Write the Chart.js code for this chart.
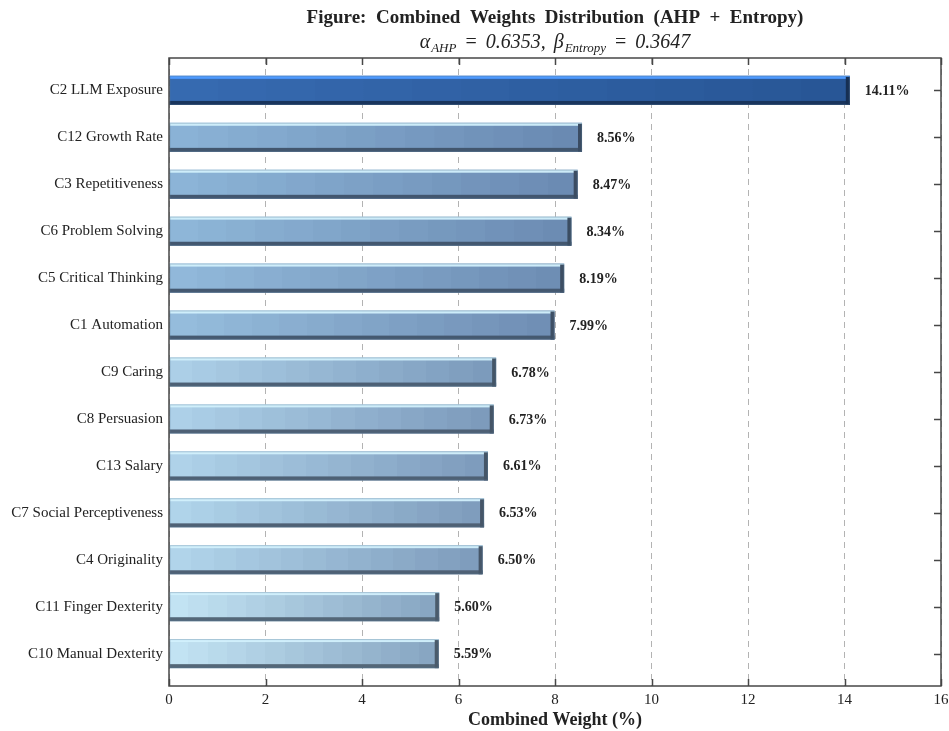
<!DOCTYPE html>
<html lang="en">
<head>
    <meta charset="UTF-8">
    <title>Combined Weights Distribution</title>
    <script src="https://cdn.jsdelivr.net/npm/chart.js@4.4.8/dist/chart.umd.min.js"></script>
    <style>
        html, body { margin: 0; padding: 0; background: #fff; }
        #wrap { width: 949px; height: 731px; }
    </style>
</head>
<body>
<div id="wrap"><canvas id="myChart" width="949" height="731"></canvas></div>

<script>
    // data
    const criteria = [
        'C2 LLM Exposure', 'C12 Growth Rate', 'C3 Repetitiveness', 'C6 Problem Solving',
        'C5 Critical Thinking', 'C1 Automation', 'C9 Caring', 'C8 Persuasion',
        'C13 Salary', 'C7 Social Perceptiveness', 'C4 Originality',
        'C11 Finger Dexterity', 'C10 Manual Dexterity'
    ]
    const weights = [14.11, 8.56, 8.47, 8.34, 8.19, 7.99, 6.78, 6.73, 6.61, 6.53, 6.50, 5.60, 5.59]
    const xTicks = [0, 2, 4, 6, 8, 10, 12, 14, 16]

    const serif = '"Liberation Serif", "Times New Roman", serif'
    const ink = '#222'
    const frameColor = '#474747'

    // colour ramp (left / right end of bar) by normalised weight
    const rampLeft  = [[194, 227, 243], [138, 178, 214], [54, 106, 176]]
    const rampRight = [[136, 166, 194], [106, 138, 178], [40, 86, 150]]
    const rampPos = [0, 0.35, 1]

    const lerp = (a, b, t) => a.map((v, i) => Math.round(v + (b[i] - v) * t))
    const ramp = (stops, t) => {
        for (let i = 0; i < rampPos.length - 1; i++) {
            if (t <= rampPos[i + 1]) {
                return lerp(stops[i], stops[i + 1], (t - rampPos[i]) / (rampPos[i + 1] - rampPos[i]))
            }
        }
        return stops[stops.length - 1]
    }
    const rgb = c => `rgb(${c[0]},${c[1]},${c[2]})`
    const shade = (c, f) => c.map(v => Math.max(0, Math.min(255, Math.round(v * f))))

    const wMin = Math.min(...weights), wMax = Math.max(...weights)
    const tOf = v => (v - wMin) / (wMax - wMin)

    const barFill = (ctx) => {
        const chart = ctx.chart
        const xs = chart.scales.x
        const v = weights[ctx.dataIndex]
        if (!xs || ctx.type !== 'data' || v === undefined) return 'rgb(138,178,214)'
        const t = tOf(v)
        const a = ramp(rampLeft, t), b = ramp(rampRight, t)
        const x0 = xs.getPixelForValue(0), x1 = xs.getPixelForValue(v)
        if (!isFinite(x0) || !isFinite(x1)) return rgb(a)
        const g = chart.ctx.createLinearGradient(x0, 0, x1, 0)
        const steps = 14
        for (let i = 0; i < steps; i++) {
            const c = rgb(lerp(a, b, i / (steps - 1)))
            g.addColorStop(i / steps, c)
            g.addColorStop((i + 1) / steps - 0.0001, c)
        }
        return g
    }

    // 3D edges on bars + value labels
    const barDecor = {
        id: 'barDecor',
        afterDatasetsDraw(chart) {
            const c = chart.ctx
            const meta = chart.getDatasetMeta(0)
            meta.data.forEach((bar, i) => {
                const v = weights[i]
                const t = tOf(v)
                const right = ramp(rampRight, t)
                const left = ramp(rampLeft, t)
                const top = bar.y - bar.height / 2
                const bottom = bar.y + bar.height / 2
                c.save()
                // top highlight
                c.fillStyle = t > 0.8 ? rgb(shade(left, 1.45)) : 'rgba(210,240,252,0.95)'
                c.fillRect(bar.base, top, bar.x - bar.base, 3)
                // bottom shadow
                c.fillStyle = rgb(shade(right, 0.62))
                c.fillRect(bar.base, bottom - 4, bar.x - bar.base, 4)
                // right side cap
                c.fillStyle = rgb(shade(right, 0.55))
                c.fillRect(bar.x - 4, top + 1, 4, bar.height - 1)
                // outline
                c.strokeStyle = 'rgba(90,120,150,0.35)'
                c.lineWidth = 1
                c.strokeRect(bar.base + 0.5, top + 0.5, bar.x - bar.base - 1, bar.height - 1)
                // value label
                c.fillStyle = ink
                c.font = 'bold 14px ' + serif
                c.textAlign = 'left'
                c.textBaseline = 'middle'
                c.fillText(v.toFixed(2) + '%', bar.x + 15, bar.y + 1)
                c.restore()
            })
        }
    }

    // frame, inward ticks and the math subtitle
    const frame = {
        id: 'frame',
        afterDraw(chart) {
            const c = chart.ctx
            const a = chart.chartArea
            const xs = chart.scales.x, ys = chart.scales.y
            c.save()
            c.strokeStyle = frameColor
            c.lineWidth = 1.5
            c.beginPath()
            xTicks.forEach(v => {
                const px = Math.round(xs.getPixelForValue(v)) + 0.5
                c.moveTo(px, a.bottom); c.lineTo(px, a.bottom - 7)
                c.moveTo(px, a.top); c.lineTo(px, a.top + 7)
            })
            criteria.forEach((_, i) => {
                const py = Math.round(ys.getPixelForValue(i)) + 0.5
                c.moveTo(a.right, py); c.lineTo(a.right - 7, py)
            })
            c.stroke()
            c.strokeRect(a.left, a.top, a.right - a.left, a.bottom - a.top)

            // subtitle: alpha_AHP = 0.6353, beta_Entropy = 0.3647
            const big = 'italic 20px ' + serif
            const sub = 'italic 13px ' + serif
            const eq = '20px ' + serif
            const parts = [
                ['α', big, 0, 0], ['AHP', sub, 4, 1], ['=', eq, 0, 9], ['0.6353,', big, 0, 9],
                ['β', big, 0, 8], ['Entropy', sub, 4, 1], ['=', eq, 0, 9], ['0.3647', big, 0, 9]
            ]
            let total = 0
            parts.forEach(p => { c.font = p[1]; total += p[3] + c.measureText(p[0]).width })
            let x = (a.left + a.right) / 2 - total / 2
            const base = a.top - 10
            c.fillStyle = ink
            c.textAlign = 'left'
            c.textBaseline = 'alphabetic'
            parts.forEach(p => {
                c.font = p[1]
                x += p[3]
                c.fillText(p[0], x, base + p[2])
                x += c.measureText(p[0]).width
            })
            c.restore()
        }
    }

    const ctx = document.getElementById('myChart')
    const chart = new Chart(ctx, {
        type: 'bar',
        data: {
            datasets: [{
                data: weights.map((w, i) => ({ x: w, y: i })),
                backgroundColor: barFill,
                borderWidth: 0,
                barPercentage: 0.62,
                categoryPercentage: 1
            }]
        },
        plugins: [barDecor, frame],
        options: {
            indexAxis: 'y',
            responsive: false,
            animation: false,
            layout: { padding: { top: 0, right: 8, bottom: 0, left: 0 } },
            plugins: {
                legend: { display: false },
                tooltip: { enabled: false },
                title: {
                    display: true,
                    fullSize: false,
                    text: 'Figure:  Combined  Weights  Distribution  (AHP  +  Entropy)',
                    color: ink,
                    font: { family: serif, size: 19, weight: 'bold' },
                    padding: { top: 7, bottom: 28.2 }
                }
            },
            scales: {
                x: {
                    type: 'linear',
                    min: 0,
                    max: 16,
                    afterBuildTicks: s => { s.ticks = xTicks.map(v => ({ value: v })) },
                    afterFit: s => { s.height = 45; s.paddingLeft = 0; s.paddingRight = 0 },
                    ticks: { color: ink, padding: 5, font: { family: serif, size: 15 } },
                    grid: { color: '#b3b3b3', lineWidth: 1, drawTicks: false },
                    border: { display: false, dash: [6, 5] },
                    title: {
                        display: true,
                        text: 'Combined Weight (%)',
                        color: ink,
                        padding: { top: 1, bottom: 0 },
                        font: { family: serif, size: 18, weight: 'bold' }
                    }
                },
                y: {
                    type: 'linear',
                    reverse: true,
                    offset: false,
                    min: -0.69,
                    max: 12.69,
                    afterBuildTicks: s => { s.ticks = criteria.map((_, i) => ({ value: i })) },
                    afterFit: s => { s.width = 169; s.paddingTop = 0; s.paddingBottom = 0 },
                    ticks: {
                        color: ink,
                        padding: 6,
                        font: { family: serif, size: 15 },
                        callback: v => criteria[v]
                    },
                    grid: { display: false, drawTicks: false },
                    border: { display: false }
                }
            }
        }
    })
</script>
</body>
</html>
